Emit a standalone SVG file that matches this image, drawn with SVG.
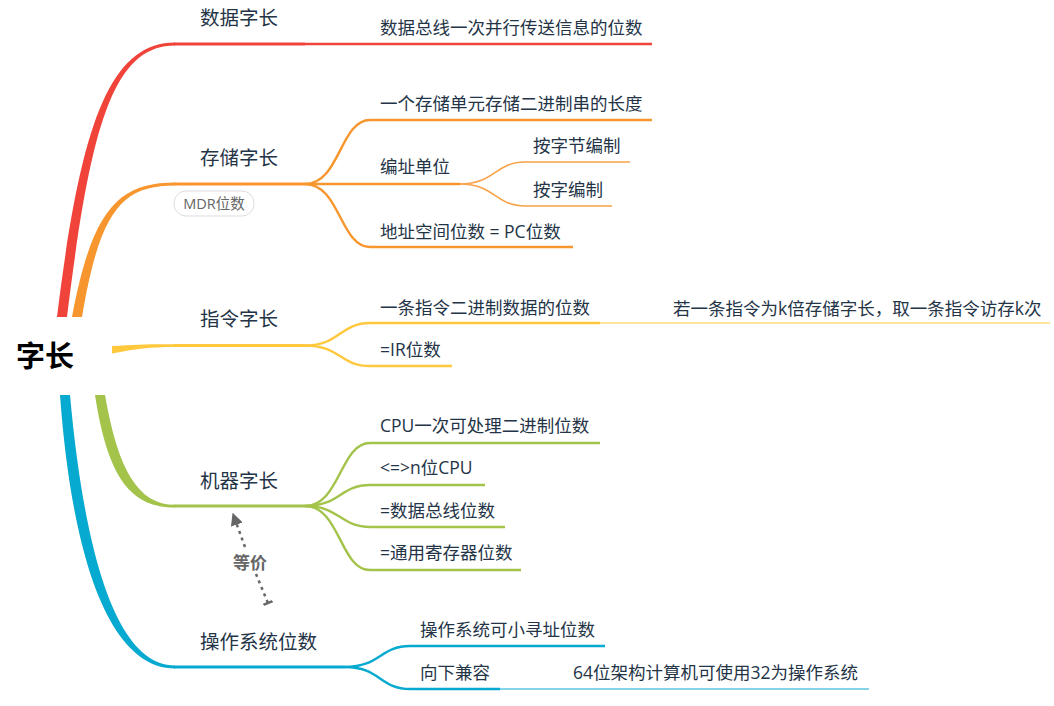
<svg xmlns="http://www.w3.org/2000/svg" width="1054" height="706" viewBox="0 0 1054 706">
<defs>
<marker id="arr" viewBox="0 0 10 10" refX="9" refY="5" markerWidth="5" markerHeight="5" orient="auto-start-reverse" markerUnits="strokeWidth">
<path d="M0,0 L10,5 L0,10 Z" fill="#666"/>
</marker>
<marker id="tbar" viewBox="0 0 10 10" refX="5" refY="5" markerWidth="4" markerHeight="4" orient="auto" markerUnits="strokeWidth">
<path d="M5,0 L5,10" stroke="#666" stroke-width="2.5"/>
</marker>
</defs>
<style>
text{font-family:"Open Sans","Noto Sans CJK SC",sans-serif;fill:#243447;dominant-baseline:central}
.t1{font-size:19.5px}
.t2{font-size:17.5px}
.root{font-size:29px;font-weight:bold;fill:#000}
.badge{font-size:14.5px;fill:#666}
.ln{fill:none;stroke-linecap:butt}
.r{stroke:#f0433a}.o{stroke:#f7962e}.y{stroke:#ffc83d}.g{stroke:#a3c34a}.b{stroke:#06a9cf}
.w3{stroke-width:3}.w2{stroke-width:2.4}.w1{stroke-width:1.6}
</style>
<rect width="1054" height="706" fill="#fff"/>
<g id="connectors">
<path d="M57,317 C80,130 108,42.5 175,42.5 L175,45.5 C112,45.5 90,130 67,317 Z" fill="#f0433a"/>
<path d="M72,317 C92,210 118,182.5 175,182.5 L175,185.5 C122,185.5 100,210 82,317 Z" fill="#f7962e"/>
<path d="M112,346 C135,344.5 150,344 175,344.2 L175,347 C150,347 135,349 112,353.5 Z" fill="#ffc83d"/>
<path d="M95,395 C108,480 132,507.5 175,507.5 L175,504.8 C138,504.8 118,470 105,395 Z" fill="#a3c34a"/>
<path d="M60,395 C72,560 110,668.5 175,668.5 L175,665.5 C118,665.5 85,560 70,395 Z" fill="#06a9cf"/>
<path class="ln r w3" d="M174,44 L305,44"/>
<path class="ln r w2" d="M305,44 L652,44"/>
<path class="ln o w3" d="M174,184 L305,184"/>
<path class="ln o w2" d="M305,184 C340,184 340,120 370,120 L652,120"/>
<path class="ln o w2" d="M305,184 L460,184"/>
<path class="ln o w2" d="M305,184 C340,184 340,247 370,247 L573,247"/>
<path class="ln w1" stroke="#f8a24a" d="M460,184 C495,184 495,162 525,162 L630,162"/>
<path class="ln w1" stroke="#f8a24a" d="M460,184 C495,184 495,206 525,206 L612,206"/>
<path class="ln y w3" d="M174,345.5 L305,345.5"/>
<path class="ln y w2" d="M305,345.5 C340,345.5 340,323 370,323 L600,323"/>
<path class="ln y w2" d="M305,345.5 C340,345.5 340,366 370,366 L452,366"/>
<path class="ln w1" stroke="#ffdc7a" d="M600,323 L1050,323"/>
<path class="ln g w3" d="M174,506 L305,506"/>
<path class="ln g w2" d="M305,506 C340,506 340,443 370,443 L600,443"/>
<path class="ln g w2" d="M305,506 C340,506 340,485 370,485 L485,485"/>
<path class="ln g w2" d="M305,506 C340,506 340,527 370,527 L505,527"/>
<path class="ln g w2" d="M305,506 C340,506 340,570 370,570 L521,570"/>
<path class="ln b w3" d="M174,667 L345,667"/>
<path class="ln b w2" d="M345,667 C380,667 380,646 410,646 L605,646"/>
<path class="ln b w2" d="M345,667 C380,667 380,689 410,689 L500,689"/>
<path class="ln w1" stroke="#5cc4e2" d="M500,689 L869,689"/>
<g id="relation">
<path d="M245,547 L233,514" fill="none" stroke="#666" stroke-width="2.5" stroke-dasharray="3 4" marker-end="url(#arr)"/>
<path d="M256,574 L268,603" fill="none" stroke="#666" stroke-width="2.5" stroke-dasharray="3 4" marker-end="url(#tbar)"/>
</g>
</g>
<g id="root"><text class="root" x="16" y="355">字长</text></g>
<g id="n-data"><text class="t1" x="200" y="17.5">数据字长</text></g>
<g id="n-data-1"><text class="t2" x="380" y="26.5">数据总线一次并行传送信息的位数</text></g>
<g id="n-store"><text class="t1" x="200" y="157.5">存储字长</text></g>
<g id="n-store-badge"><rect x="174" y="191" width="80" height="25" rx="12" fill="#fff" stroke="#ddd" stroke-width="1"/><text class="badge" x="214" y="203.5" text-anchor="middle">MDR位数</text></g>
<g id="n-store-1"><text class="t2" x="380" y="102.5">一个存储单元存储二进制串的长度</text></g>
<g id="n-store-2"><text class="t2" x="380" y="166">编址单位</text></g>
<g id="n-store-2a"><text class="t2" x="533" y="145">按字节编制</text></g>
<g id="n-store-2b"><text class="t2" x="533" y="188.5">按字编制</text></g>
<g id="n-store-3"><text class="t2" x="380" y="231">地址空间位数 = PC位数</text></g>
<g id="n-instr"><text class="t1" x="200" y="318">指令字长</text></g>
<g id="n-instr-1"><text class="t2" x="380" y="307">一条指令二进制数据的位数</text></g>
<g id="n-instr-1a"><text class="t2" x="673" y="308">若一条指令为k倍存储字长，取一条指令访存k次</text></g>
<g id="n-instr-2"><text class="t2" x="380" y="349">=IR位数</text></g>
<g id="n-machine"><text class="t1" x="200" y="480">机器字长</text></g>
<g id="n-machine-1"><text class="t2" x="380" y="425">CPU一次可处理二进制位数</text></g>
<g id="n-machine-2"><text class="t2" x="380" y="467">&lt;=&gt;n位CPU</text></g>
<g id="n-machine-3"><text class="t2" x="380" y="510">=数据总线位数</text></g>
<g id="n-machine-4"><text class="t2" x="380" y="552">=通用寄存器位数</text></g>
<g id="n-os"><text class="t1" x="200" y="641">操作系统位数</text></g>
<g id="n-os-1"><text class="t2" x="420" y="629">操作系统可小寻址位数</text></g>
<g id="n-os-2"><text class="t2" x="420" y="672">向下兼容</text></g>
<g id="n-os-2a"><text class="t2" x="573" y="672">64位架构计算机可使用32为操作系统</text></g>
<g id="rel-label"><text x="250" y="562" text-anchor="middle" style="font-size:17px;font-weight:bold;fill:#666">等价</text></g>
</svg>
